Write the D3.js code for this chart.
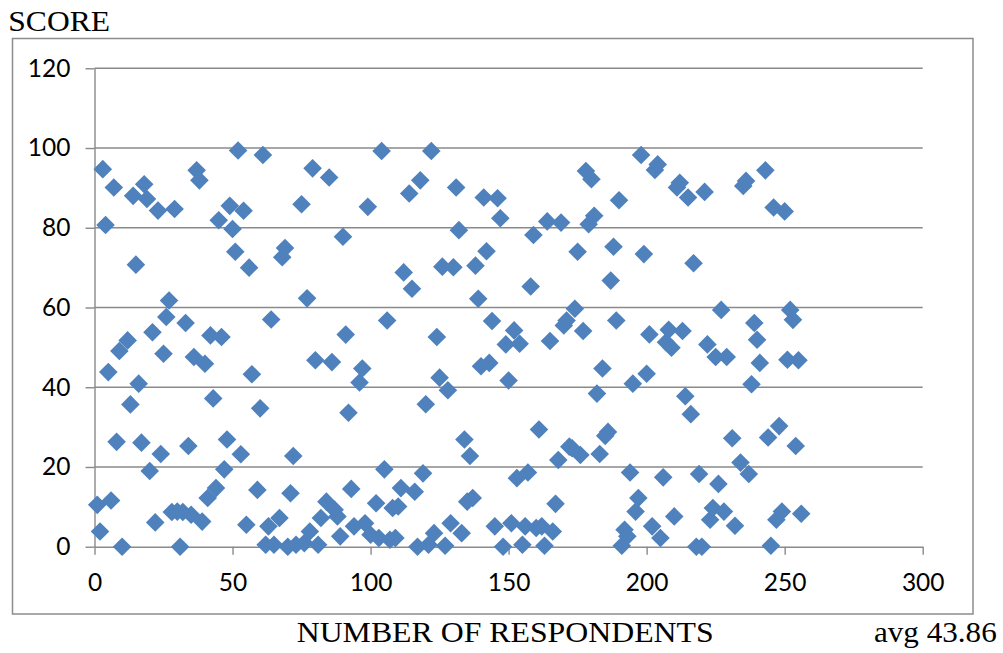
<!DOCTYPE html>
<html>
<head>
<meta charset="utf-8">
<script src="https://cdn.jsdelivr.net/npm/d3@7"></script>
<style>
  html, body { margin: 0; padding: 0; background: #fff; }
  svg { display: block; }
</style>
</head>
<body>
<div id="chart"></div>
<script>
// ---- Data ----
const respondents = [
  1,2,3,4,5,6,7,8,9,10,12,13,14,15,16,17,18,19,20,21,22,23,24,25,26,27,28,29,30,
  31,32,33,34,35,36,37,38,39,40,41,42,43,44,45,46,47,48,49,50,51,52,53,54,55,56,57,
  59,60,61,62,63,64,65,67,68,69,70,71,72,73,75,76,77,78,79,80,81,82,84,85,86,87,88,
  89,90,91,92,93,94,96,97,98,99,100,102,103,104,105,106,107,108,109,110,111,112,
  114,115,116,117,118,119,120,121,122,123,124,125,126,127,128,129,130,131,132,133,
  134,135,136,137,138,139,140,141,142,143,144,145,146,147,148,149,150,151,152,153,
  154,155,156,157,158,159,160,161,162,163,164,165,166,167,168,169,170,171,172,173,
  174,175,176,177,178,179,180,181,182,183,184,185,186,187,188,189,190,191,192,193,
  194,195,196,197,198,199,200,201,202,203,204,205,206,207,208,209,210,211,212,213,
  214,215,216,217,218,219,220,221,222,223,224,225,226,227,228,229,231,232,234,235,
  236,237,238,239,240,241,243,244,245,246,247,248,249,250,251,252,253,254,255,256
];
const scores = [
  10.5,3.8,94.7,80.7,43.8,11.6,90.1,26.3,49.1,0,51.75,35.7,88,70.75,40.9,26.1,90.9,87.2,19,53.8,6.1,84.3,23.25,48.4,57.6,61.75,8.7,84.7,8.8,
  0,8.7,56.1,25.25,8,47.6,94.4,91.9,6.3,45.9,12.2,53,37.2,14.7,81.9,52.6,19.4,26.9,85.5,79.7,74,99.4,23.2,84.25,5.5,70,43.25,
  14.25,34.7,98.25,0.5,5.1,57,0.5,7.2,72.6,74.9,0,13.4,22.75,0.5,85.9,0.9,62.3,3.8,94.9,46.75,0.5,7.2,11.3,92.6,46.3,9.25,7.6,
  2.6,77.75,53.2,33.6,14.5,5.1,41.2,44.7,5.9,85.25,3,10.9,2.2,99.25,19.4,56.75,1.75,9.7,2.2,10.1,14.7,68.8,
  88.6,64.7,13.8,0,91.9,18.4,35.75,0.5,99.25,3.4,52.6,42.4,70.25,0.25,39.25,5.9,70.1,90.1,79.4,3.4,
  26.9,11.3,22.75,12.2,70.5,62.2,45.25,87.6,74.1,46.1,56.6,5.1,87.4,82.4,0,50.75,41.7,5.9,54.25,17.2,
  50.9,0.5,5.1,18.6,65.25,78.2,4.7,29.4,5.1,0.25,81.6,51.6,3.8,10.75,21.75,81.3,55.5,56.75,25.1,24.7,
  59.7,74,23,54.1,94.25,80.9,92.2,83,38.4,23.25,44.7,27.8,28.8,66.75,75.25,56.75,86.9,0.25,4.25,2.6,
  18.6,40.9,8.8,12.2,98.25,73.4,43.4,53.25,5.1,94.5,95.9,2.2,17.4,51.3,54.4,49.9,7.6,90.1,91.3,54.1,
  37.75,87.6,33.25,71.1,0,18.25,0,89,50.75,6.75,9.7,47.6,15.75,59.4,8.8,47.6,27.2,5.25,21.1,90.5,
  91.75,18.25,40.75,56.1,51.9,46.1,94.4,27.4,0.25,85.1,6.75,30.25,8.8,84.1,46.9,59.4,56.9,25.25,46.75,8.25
];
const xTicks = [0, 50, 100, 150, 200, 250, 300];
const yTicks = [0, 20, 40, 60, 80, 100, 120];
const yTitle = "SCORE";
const xTitle = "NUMBER OF RESPONDENTS";
const note = "avg 43.86";

// ---- Drawing ----
const W = 1003, H = 653;
const svg = d3.select("#chart").append("svg")
  .attr("width", W).attr("height", H);

svg.append("rect").attr("x", 0).attr("y", 0).attr("width", W).attr("height", H).attr("fill", "#fff");

// outer chart frame
svg.append("rect")
  .attr("x", 12.5).attr("y", 38.5)
  .attr("width", 960.5).attr("height", 575.5)
  .attr("fill", "none").attr("stroke", "#8c8c8c").attr("stroke-width", 1.5);

const x = d3.scaleLinear().domain([0, 300]).range([94.5, 922.7]);
const y = d3.scaleLinear().domain([0, 120]).range([546.7, 68.3]);

const gridColor = "#8a8a8a";

// horizontal gridlines
svg.append("g").selectAll("line")
  .data(yTicks.filter(d => d > 0))
  .join("line")
  .attr("x1", x(0)).attr("x2", x(300))
  .attr("y1", d => y(d)).attr("y2", d => y(d))
  .attr("stroke", gridColor).attr("stroke-width", 1.4);

// y axis
const yAxis = svg.append("g")
  .attr("transform", `translate(${x(0)},0)`)
  .call(d3.axisLeft(y).tickValues(yTicks).tickSizeInner(9).tickSizeOuter(0).tickPadding(15));
yAxis.select(".domain").attr("stroke", gridColor).attr("stroke-width", 1.4);
yAxis.selectAll(".tick line").attr("stroke", gridColor).attr("stroke-width", 1.4);
yAxis.selectAll(".tick text")
  .attr("font-family", "Lato, 'Open Sans', sans-serif")
  .attr("font-size", 24.5).attr("fill", "#000");

// x axis
const xAxis = svg.append("g")
  .attr("transform", `translate(0,${y(0)})`)
  .call(d3.axisBottom(x).tickValues(xTicks).tickSizeInner(8).tickSizeOuter(0).tickPadding(19));
xAxis.select(".domain").attr("stroke", gridColor).attr("stroke-width", 1.4);
xAxis.selectAll(".tick line").attr("stroke", gridColor).attr("stroke-width", 1.4);
xAxis.selectAll(".tick text")
  .attr("font-family", "Lato, 'Open Sans', sans-serif")
  .attr("font-size", 24.5).attr("fill", "#000");

// diamond marker (square rotated 45 degrees)
const squareDiamond = {
  draw(ctx, size) {
    const r = Math.sqrt(size / 2);
    ctx.moveTo(0, -r); ctx.lineTo(r, 0); ctx.lineTo(0, r); ctx.lineTo(-r, 0); ctx.closePath();
  }
};
const marker = d3.symbol().type(squareDiamond).size(2 * 9.3 * 9.3);

const points = respondents.map((r, i) => ({ r, s: scores[i] }));
svg.append("g").selectAll("path")
  .data(points)
  .join("path")
  .attr("d", marker)
  .attr("transform", d => `translate(${x(d.r)},${y(d.s)})`)
  .attr("fill", "#4F81BD");

// titles
const serif = "'Liberation Serif', 'Times New Roman', serif";
svg.append("text").text(yTitle)
  .attr("x", 8.3).attr("y", 30.7)
  .attr("font-family", serif).attr("font-size", 29.5)
  .attr("textLength", 101.7).attr("lengthAdjust", "spacingAndGlyphs")
  .attr("fill", "#000");
svg.append("text").text(xTitle)
  .attr("x", 296.7).attr("y", 641.7)
  .attr("font-family", serif).attr("font-size", 29)
  .attr("textLength", 417).attr("lengthAdjust", "spacingAndGlyphs")
  .attr("fill", "#000");
svg.append("text").text(note)
  .attr("x", 874).attr("y", 641.7)
  .attr("font-family", serif).attr("font-size", 29)
  .attr("textLength", 122.7).attr("lengthAdjust", "spacingAndGlyphs")
  .attr("fill", "#000");
</script>
</body>
</html>
